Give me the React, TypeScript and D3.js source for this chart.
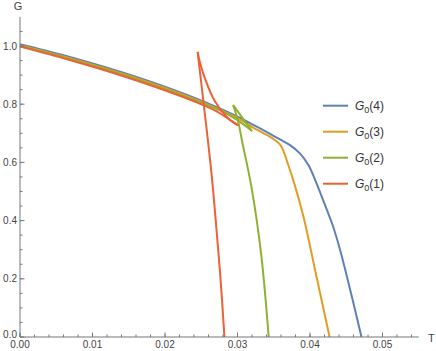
import React from 'react';
import * as d3 from 'd3';

// temperatures (T) and G values, one branch per array
const blueT = [0, 0.006, 0.012, 0.018, 0.024, 0.030, 0.0324, 0.0352, 0.0372, 0.0386, 0.0398, 0.0409, 0.042, 0.0432, 0.0442, 0.0451, 0.0461, 0.0471];
const blueG = [1.006, 0.968, 0.925, 0.877, 0.822, 0.757, 0.726, 0.688, 0.66, 0.631, 0.59, 0.528, 0.458, 0.379, 0.295, 0.207, 0.105, 0];

const orangeT = [0, 0.006, 0.012, 0.018, 0.024, 0.030, 0.0324, 0.0345, 0.0359, 0.037, 0.0379, 0.0391, 0.0409, 0.0427];
const orangeG = [1.003, 0.964, 0.921, 0.873, 0.818, 0.752, 0.716, 0.688, 0.66, 0.591, 0.522, 0.413, 0.207, 0];

const greenMainT = [0, 0.006, 0.012, 0.018, 0.024, 0.028, 0.030, 0.032];
const greenMainG = [1.0, 0.961, 0.918, 0.869, 0.814, 0.774, 0.745, 0.708];
const greenUpperT = [0.032, 0.0294];
const greenUpperG = [0.708, 0.797];
const greenSteepT = [0.0294, 0.0301, 0.0306, 0.032, 0.0333, 0.0343];
const greenSteepG = [0.797, 0.74, 0.677, 0.505, 0.276, 0];

const redMainT = [0, 0.006, 0.012, 0.018, 0.024, 0.027, 0.0301];
const redMainG = [0.998, 0.958, 0.914, 0.865, 0.81, 0.777, 0.727];
const redUpperT = [0.0301, 0.0287, 0.0269, 0.0255, 0.0248, 0.0245];
const redUpperG = [0.727, 0.752, 0.809, 0.889, 0.946, 0.98];
const redSteepT = [0.0245, 0.0252, 0.0259, 0.0265, 0.027, 0.0276, 0.0282];
const redSteepG = [0.98, 0.83, 0.68, 0.54, 0.4, 0.22, 0];

const seriesNames = ['4', '3', '2', '1'];
const seriesColors = ['#5E81B5', '#E19C24', '#8FB131', '#EB6235'];

const xTicks = [0, 0.01, 0.02, 0.03, 0.04, 0.05];
const yTicks = [0, 0.2, 0.4, 0.6, 0.8, 1.0];

const W = 436;
const H = 351;

const zip = (ts: number[], gs: number[]) => ts.map((t, i) => [t, gs[i]] as [number, number]);

export default function App() {
  const x = d3.scaleLinear().domain([0, 0.055]).range([20, 418.75]);
  const y = d3.scaleLinear().domain([0, 1.1]).range([337, 16.9]);

  const line = d3
    .line<[number, number]>()
    .x(d => x(d[0]))
    .y(d => y(d[1]))
    .curve(d3.curveCatmullRom.alpha(0.5));

  // draw order: blue at the back, red on top
  const branches: { pts: [number, number][]; color: string }[] = [
    { pts: zip(blueT, blueG), color: seriesColors[0] },
    { pts: zip(orangeT, orangeG), color: seriesColors[1] },
    { pts: zip(greenMainT, greenMainG), color: seriesColors[2] },
    { pts: zip(greenUpperT, greenUpperG), color: seriesColors[2] },
    { pts: zip(greenSteepT, greenSteepG), color: seriesColors[2] },
    { pts: zip(redMainT, redMainG), color: seriesColors[3] },
    { pts: zip(redUpperT, redUpperG), color: seriesColors[3] },
    { pts: zip(redSteepT, redSteepG), color: seriesColors[3] },
  ];

  const xMinor = d3.range(0, 0.0545, 0.002);
  const yMinor = d3.range(0, 1.1, 0.05);

  const axisColor = '#777';
  const labelColor = '#444';
  const font = 'Liberation Sans, Arial, sans-serif';

  return (
    <>
      <style>{'body{margin:0}'}</style>
      <svg width={W} height={H} style={{ display: 'block', fontFamily: font }}>
        <rect width={W} height={H} fill="#fff" />

        {/* curves */}
        {branches.map((b, i) => (
          <path
            key={i}
            d={line(b.pts) || ''}
            fill="none"
            stroke={b.color}
            strokeWidth={2}
            strokeLinejoin="round"
          />
        ))}

        {/* x axis */}
        <line x1={x(0)} x2={x(0.055)} y1={y(0)} y2={y(0)} stroke={axisColor} strokeWidth={1} />
        {xMinor.map((t, i) => (
          <line key={'xm' + i} x1={x(t)} x2={x(t)} y1={y(0)} y2={y(0) - 2.5} stroke={axisColor} strokeWidth={1} />
        ))}
        {xTicks.map((t, i) => (
          <g key={'xt' + i}>
            <line x1={x(t)} x2={x(t)} y1={y(0)} y2={y(0) - 4.5} stroke={axisColor} strokeWidth={1} />
            <text x={x(t)} y={y(0) + 10.5} textAnchor="middle" fontSize={10} fill={labelColor}>
              {t.toFixed(2)}
            </text>
          </g>
        ))}
        <text x={428} y={y(0) + 4.5} fontSize={11} fill={labelColor}>T</text>

        {/* y axis */}
        <line x1={x(0)} x2={x(0)} y1={y(0)} y2={y(1.1)} stroke={axisColor} strokeWidth={1} />
        {yMinor.map((g, i) => (
          <line key={'ym' + i} x1={x(0)} x2={x(0) + 2.5} y1={y(g)} y2={y(g)} stroke={axisColor} strokeWidth={1} />
        ))}
        {yTicks.map((g, i) => (
          <g key={'yt' + i}>
            <line x1={x(0)} x2={x(0) + 4.5} y1={y(g)} y2={y(g)} stroke={axisColor} strokeWidth={1} />
            <text
              x={x(0) - 3}
              y={y(g) + (g === 0 ? 1 : 3.5)}
              textAnchor="end"
              fontSize={10}
              fill={labelColor}
            >
              {g.toFixed(1)}
            </text>
          </g>
        ))}
        <text x={18} y={10} textAnchor="middle" fontSize={11} fill={labelColor}>G</text>

        {/* legend */}
        {seriesNames.map((n, i) => {
          const ly = 105.7 + i * 26;
          return (
            <g key={'lg' + i}>
              <line x1={323} x2={348} y1={ly} y2={ly} stroke={seriesColors[i]} strokeWidth={2} />
              <text x={355} y={ly + 4.5} fontSize={12} fill="#333">
                <tspan fontStyle="italic">G</tspan>
                <tspan fontSize={9} dy={3}>0</tspan>
                <tspan dy={-3}>({n})</tspan>
              </text>
            </g>
          );
        })}
      </svg>
    </>
  );
}
